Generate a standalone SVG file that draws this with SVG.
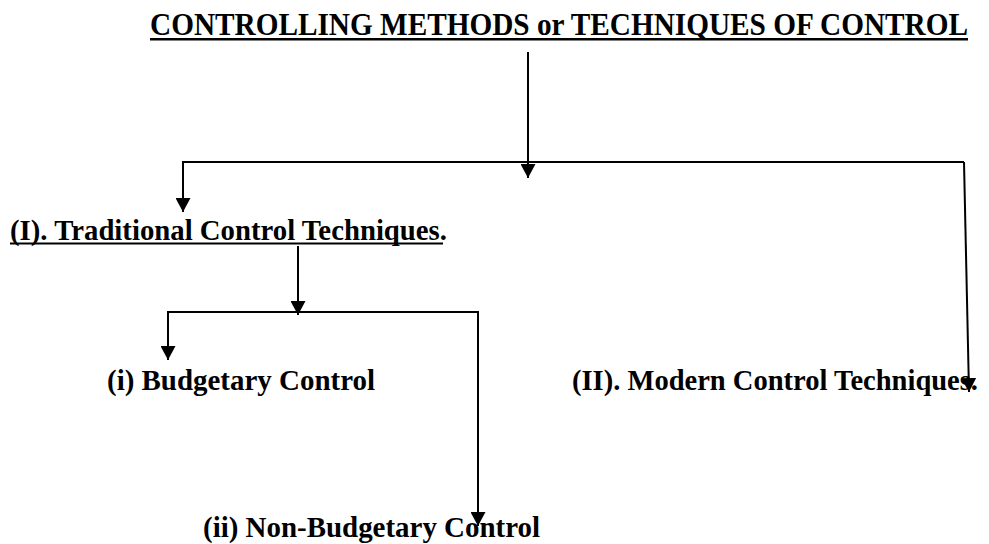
<svg xmlns="http://www.w3.org/2000/svg" width="989" height="544" viewBox="0 0 989 544">
  <style>
    .t { font-family: "Liberation Serif", "Times New Roman", serif; font-weight: bold; fill: #000; }
    .c { stroke: #000; stroke-width: 2; fill: none; }
    .u { stroke: #000; fill: none; }
  </style>
  <defs>
    <marker id="ah" markerUnits="userSpaceOnUse" markerWidth="15" markerHeight="15" refX="14" refY="7.5" orient="auto" viewBox="0 0 15 15">
      <path d="M0,0 L14,7.5 L0,15 z" fill="#000"/>
    </marker>
  </defs>
  <rect width="989" height="544" fill="#fff"/>

  <g id="connectors">
    <line class="c" x1="528" y1="52" x2="528" y2="178" marker-end="url(#ah)"/>
    <polyline class="c" points="183,212 183,162 964,162"/>
    <line class="c" x1="183" y1="190" x2="183" y2="212" marker-end="url(#ah)"/>
    <line class="c" x1="964" y1="162" x2="969" y2="392" marker-end="url(#ah)"/>
    <line class="c" x1="298" y1="246" x2="298" y2="315" marker-end="url(#ah)"/>
    <polyline class="c" points="168,340 168,312 478,312 478,500"/>
    <line class="c" x1="168" y1="312" x2="168" y2="360" marker-end="url(#ah)"/>
    <line class="c" x1="478" y1="312" x2="478" y2="526" marker-end="url(#ah)"/>
  </g>

  <g id="title">
    <text class="t" transform="translate(150,35) scale(1,1.12)" x="0" y="0" font-size="29" textLength="818" lengthAdjust="spacingAndGlyphs">CONTROLLING METHODS or TECHNIQUES OF CONTROL</text>
    <line class="u" x1="150" y1="39.2" x2="968" y2="39.2" stroke-width="2.5"/>
  </g>

  <g id="traditional">
    <text class="t" x="10" y="240" font-size="28.5" textLength="437" lengthAdjust="spacingAndGlyphs">(I). Traditional Control Techniques.</text>
    <line class="u" x1="10" y1="243.5" x2="443" y2="243.5" stroke-width="2"/>
  </g>

  <g id="modern">
    <text class="t" x="572" y="390" font-size="28.5" textLength="406" lengthAdjust="spacingAndGlyphs">(II). Modern Control Techniques.</text>
  </g>

  <g id="budgetary">
    <text class="t" x="107" y="390" font-size="29" textLength="268" lengthAdjust="spacingAndGlyphs">(i) Budgetary Control</text>
  </g>

  <g id="nonbudgetary">
    <text class="t" x="203" y="537" font-size="29" textLength="337" lengthAdjust="spacingAndGlyphs">(ii) Non-Budgetary Control</text>
  </g>
</svg>
